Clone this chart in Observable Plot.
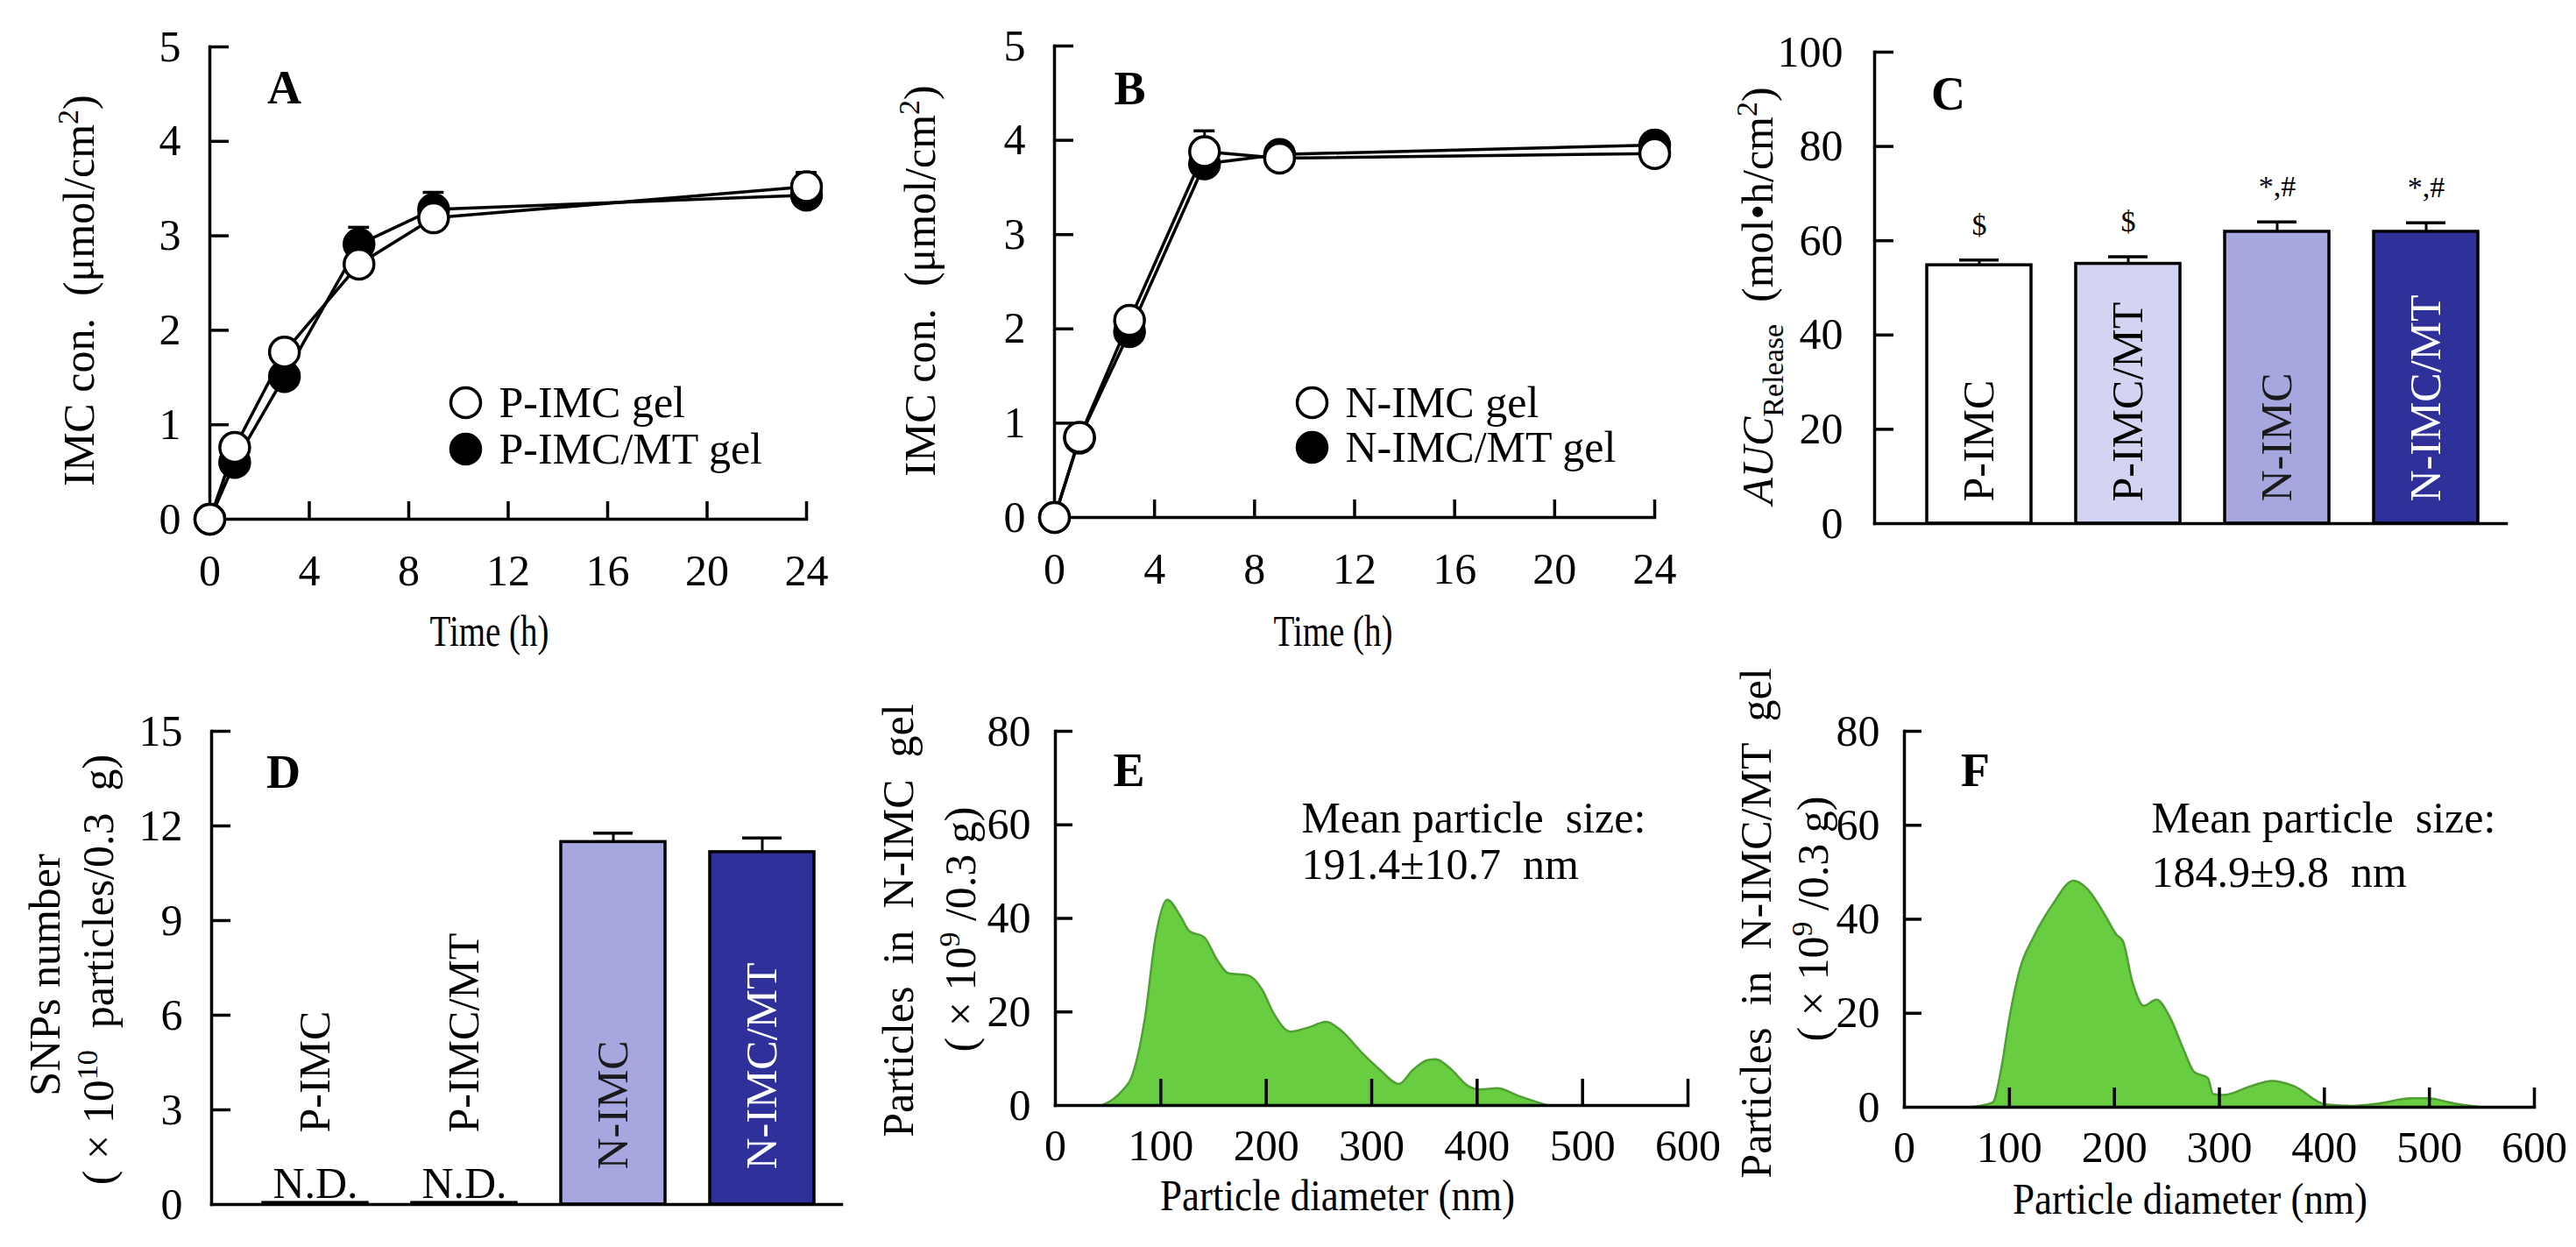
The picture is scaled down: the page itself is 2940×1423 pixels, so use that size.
<!DOCTYPE html>
<html><head><meta charset="utf-8">
<script src="https://cdn.jsdelivr.net/npm/d3@7"></script>
<script src="https://cdn.jsdelivr.net/npm/@observablehq/plot@0.6"></script>
<style>
body{margin:0;background:#fff;}
#fig{position:relative;width:2940px;height:1423px;background:#fff;}
#fig svg{position:absolute;overflow:visible;}
</style></head><body><div id="fig"></div>
<script>
// ---------- data ----------
const timeH = [0, 1, 3, 6, 9, 24];
const pImc = [0, 0.76, 1.77, 2.70, 3.19, 3.52];
const pImcErr = [0, 0.05, 0.06, 0.08, 0.10, 0.15];
const pImcMt = [0, 0.60, 1.51, 2.91, 3.28, 3.43];
const pImcMtErr = [0, 0.05, 0.08, 0.18, 0.18, 0.08];
const nImc = [0, 0.85, 2.09, 3.88, 3.81, 3.86];
const nImcErr = [0, 0.05, 0.06, 0.22, 0.06, 0.06];
const nImcMt = [0, 0.84, 1.97, 3.75, 3.85, 3.95];
const nImcMtErr = [0, 0.04, 0.05, 0.08, 0.05, 0.12];

const groups = ["P-IMC", "P-IMC/MT", "N-IMC", "N-IMC/MT"];
const aucMean = [54.8, 55.1, 61.9, 61.9];
const aucErr = [1.1, 1.5, 2.1, 1.9];
const aucSig = ["$", "$", "*,#", "*,#"];
const snpMean = [0.05, 0.05, 11.49, 11.17];
const snpErr = [0, 0, 0.28, 0.45];
const snpNote = ["N.D.", "N.D.", "", ""];
const groupFill = ["#ffffff", "#d3d3f2", "#a7a7e0", "#30309a"];
const groupText = ["#000000", "#000000", "#1a1a1a", "#ffffff"];

const diamE = [44, 64, 72, 85, 95, 106, 119, 127, 141, 154, 164, 183, 196, 207, 223, 239, 257, 270, 292, 308, 326, 339, 353, 361, 374, 392, 403, 419, 440, 467];
const countE = [0, 3.3, 5.9, 18.8, 36, 44, 40.3, 37.3, 36, 30.9, 28.3, 27.8, 24.8, 19.7, 15.8, 16.6, 17.9, 16.2, 11, 7.6, 4.6, 7.6, 9.7, 9.9, 8, 4.1, 3.4, 3.7, 2, 0];
const diamF = [62, 84, 92, 100, 110, 123, 141, 161, 174, 192, 202, 208, 217, 228, 240, 253, 266, 276, 289, 294, 304, 330, 350, 371, 401, 427, 452, 483, 498, 524, 550];
const countF = [0, 1, 7.9, 19, 29.4, 36.2, 43.1, 48.2, 46.5, 40.5, 36.7, 35.4, 26.8, 21.6, 22.9, 19.1, 12.2, 7.5, 6.2, 2.8, 2.6, 4.5, 5.6, 4.5, 0.6, 0.3, 0.8, 1.9, 1.9, 0.8, 0];

const timeTicks = [0, 4, 8, 12, 16, 20, 24];
const concTicks = [0, 1, 2, 3, 4, 5];
const aucTicks = [0, 20, 40, 60, 80, 100];
const snpTicks = [0, 3, 6, 9, 12, 15];
const diamTicks = [0, 100, 200, 300, 400, 500, 600];
const countTicks = [0, 20, 40, 60, 80];

// ---------- helpers ----------
const fig = document.getElementById("fig");
const FONT = "'Liberation Serif', 'Times New Roman', serif";
const LW = 3.5;
const GREEN = "#69cd42";
const GREEN_DARK = "#4f9f33";
const fmt = d => String(d);

function mount(P, opts) {
  const svg = Plot.plot({
    width: P.width, height: P.height,
    marginLeft: P.mL, marginRight: P.mR, marginTop: P.mT, marginBottom: P.mB,
    style: {fontFamily: FONT, fontSize: "50px", color: "#000", background: "transparent", overflow: "visible"},
    color: {type: "identity"},
    ...opts
  });
  svg.style.position = "absolute";
  svg.style.left = P.left + "px";
  svg.style.top = P.top + "px";
  svg.style.maxWidth = "none";
  fig.append(svg);
  return svg;
}
function at(P, X, Y) { return {frameAnchor: "top-left", dx: X - P.left - P.mL, dy: Y - P.top - P.mT}; }
function note(P, X, Y, text, o = {}) {
  return Plot.text([text], {text: d => d, ...at(P, X, Y), textAnchor: "middle", lineAnchor: "middle", fontSize: 50, ...o});
}
function yTicksIn(P, ticks, len = 22) {
  const fw = P.width - P.mL - P.mR;
  return Plot.ruleY(ticks.slice(1), {y: d => d, insetRight: fw - len, strokeWidth: LW});
}
function xTicksIn(P, ticks, len = 20) {
  const fh = P.height - P.mT - P.mB;
  return Plot.ruleX(ticks.slice(1), {x: d => d, insetTop: fh - len, strokeWidth: LW});
}
function axesLines() {
  return [Plot.frame({anchor: "left", strokeWidth: LW}), Plot.frame({anchor: "bottom", strokeWidth: LW})];
}
function findText(svg, plain) {
  return d3.select(svg).selectAll("text").filter(function () { return this.textContent === plain; });
}
function richify(svg, plain, parts) {
  findText(svg, plain).each(function () {
    const el = d3.select(this);
    el.text(null);
    let shift = 0;
    for (const [str, kind] of parts) {
      const ts = el.append("tspan").text(str);
      const target = kind === "sup" ? -18 : kind === "sub" ? 12 : 0;
      if (target !== shift) ts.attr("dy", target - shift);
      shift = target;
      if (kind === "sup" || kind === "sub") ts.attr("font-size", 34);
      if (kind === "italic") ts.attr("font-style", "italic");
    }
  });
}
function squeeze(svg, plain, len) {
  findText(svg, plain).attr("textLength", len).attr("lengthAdjust", "spacingAndGlyphs");
}

// ---------- A & B: release profiles ----------
function rows(series) {
  return series.flatMap(s => timeH.map((t, i) => ({t, v: s.v[i], e: s.e[i], name: s.name, fill: s.fill})));
}
function releasePanel(P, series, legend, letter, ylab, xlab) {
  const data = rows(series);
  const svg = mount(P, {
    x: {domain: [0, 24]},
    y: {domain: [0, 5]},
    marks: [
      ...axesLines(),
      yTicksIn(P, concTicks),
      xTicksIn(P, timeTicks),
      Plot.axisY({ticks: concTicks, tickSize: 0, tickPadding: 33, label: null, tickFormat: fmt}),
      Plot.axisX({ticks: timeTicks, tickSize: 0, tickPadding: 40, label: null, tickFormat: fmt}),
      Plot.ruleX(data.filter(d => d.e > 0), {x: "t", y1: "v", y2: d => d.v + d.e, strokeWidth: 3}),
      Plot.ruleY(data.filter(d => d.e > 0), {y: d => d.v + d.e, x1: d => d.t - 0.42, x2: d => d.t + 0.42, strokeWidth: 3.5}),
      Plot.line(data, {x: "t", y: "v", z: "name", stroke: "#000", strokeWidth: LW}),
      Plot.dot(data, {x: "t", y: "v", r: 17, fill: "fill", stroke: "#000", strokeWidth: LW}),
      ...legend.flatMap(l => [
        Plot.dot([l.name], {...at(P, l.X, l.Y), r: 17, fill: l.fill, stroke: "#000", strokeWidth: LW}),
        note(P, l.X + 38, l.Y, l.name, {textAnchor: "start"})
      ]),
      note(P, letter.X, letter.Y, letter.t, {fontWeight: "bold", fontSize: 54}),
      note(P, ylab.X, ylab.Y, ylab.t, {rotate: -90}),
      note(P, xlab.X, xlab.Y, "Time (h)")
    ]
  });
  richify(svg, ylab.t, [["IMC con.  (μmol/cm", ""], ["2", "sup"], [")", ""]]);
  squeeze(svg, "Time (h)", 136);
}

const PA = {left: 0, top: 0, width: 980, height: 770, mL: 239, mR: 60, mT: 53, mB: 178};
releasePanel(PA,
  [{name: "P-IMC/MT gel", v: pImcMt, e: pImcMtErr, fill: "#000000"},
   {name: "P-IMC gel", v: pImc, e: pImcErr, fill: "#ffffff"}],
  [{name: "P-IMC gel", fill: "#fff", X: 531, Y: 459}, {name: "P-IMC/MT gel", fill: "#000", X: 531, Y: 512}],
  {t: "A", X: 324, Y: 100},
  {t: "IMC con.  (μmol/cm2)", X: 90, Y: 331},
  {X: 558, Y: 720});

const PB = {left: 980, top: 0, width: 960, height: 770, mL: 223, mR: 52, mT: 52, mB: 180};
releasePanel(PB,
  [{name: "N-IMC/MT gel", v: nImcMt, e: nImcMtErr, fill: "#000000"},
   {name: "N-IMC gel", v: nImc, e: nImcErr, fill: "#ffffff"}],
  [{name: "N-IMC gel", fill: "#fff", X: 1497, Y: 459}, {name: "N-IMC/MT gel", fill: "#000", X: 1497, Y: 510}],
  {t: "B", X: 1289, Y: 101},
  {t: "IMC con.  (μmol/cm2)", X: 1050, Y: 320},
  {X: 1521, Y: 720});

// ---------- C: AUC bars ----------
const PC = {left: 1940, top: 0, width: 1000, height: 770, mL: 199, mR: 80, mT: 59, mB: 173};
const cRows = groups.map((g, i) => ({g, v: aucMean[i], e: aucErr[i], sig: aucSig[i], fill: groupFill[i], tc: groupText[i]}));
const svgC = mount(PC, {
  x: {type: "band", domain: groups, range: [259, 888], paddingInner: 0.3, paddingOuter: 0, axis: null},
  y: {domain: [0, 100]},
  marks: [
    Plot.ruleX(cRows, {x: "g", y1: "v", y2: d => d.v + d.e, strokeWidth: 3}),
    Plot.tickY(cRows, {x: "g", y: d => d.v + d.e, insetLeft: 37, insetRight: 37, strokeWidth: LW}),
    Plot.barY(cRows, {x: "g", y: "v", fill: "fill", stroke: "#000", strokeWidth: LW}),
    ...axesLines(),
    yTicksIn(PC, aucTicks),
    Plot.axisY({ticks: aucTicks, tickSize: 0, tickPadding: 36, label: null, tickFormat: fmt}),
    Plot.text(cRows, {x: "g", y: 0, dy: -25, text: "g", rotate: -90, textAnchor: "start", lineAnchor: "middle", fill: "tc", fontSize: 50}),
    Plot.text(cRows, {x: "g", y: d => d.v + d.e, dy: -40, text: "sig", fontSize: 34, lineAnchor: "middle"}),
    note(PC, 2223, 107, "C", {fontWeight: "bold", fontSize: 54}),
    note(PC, 2006, 337, "AUCRelease  (mol•h/cm2)", {rotate: -90})
  ]
});
richify(svgC, "AUCRelease  (mol•h/cm2)", [["AUC", "italic"], ["Release", "sub"], ["  (mol•h/cm", ""], ["2", "sup"], [")", ""]]);

// ---------- D: SNP number ----------
const PD = {left: 0, top: 770, width: 980, height: 653, mL: 241, mR: 20, mT: 64, mB: 49};
const dRows = groups.map((g, i) => ({g, v: snpMean[i], e: snpErr[i], nd: snpNote[i], fill: groupFill[i], tc: groupText[i]}));
const svgD = mount(PD, {
  x: {type: "band", domain: groups, range: [300, 929], paddingInner: 0.3, paddingOuter: 0, axis: null},
  y: {domain: [0, 15]},
  marks: [
    Plot.ruleX(dRows.filter(d => d.e > 0), {x: "g", y1: "v", y2: d => d.v + d.e, strokeWidth: 3}),
    Plot.tickY(dRows.filter(d => d.e > 0), {x: "g", y: d => d.v + d.e, insetLeft: 37, insetRight: 37, strokeWidth: LW}),
    Plot.barY(dRows, {x: "g", y: "v", fill: "fill", stroke: "#000", strokeWidth: LW}),
    ...axesLines(),
    yTicksIn(PD, snpTicks),
    Plot.axisY({ticks: snpTicks, tickSize: 0, tickPadding: 33, label: null, tickFormat: fmt}),
    Plot.text(dRows.filter(d => d.nd), {x: "g", y: 0, dy: -82, text: "g", rotate: -90, textAnchor: "start", lineAnchor: "middle", fill: "tc", fontSize: 50}),
    Plot.text(dRows.filter(d => !d.nd), {x: "g", y: 0, dy: -40, text: "g", rotate: -90, textAnchor: "start", lineAnchor: "middle", fill: "tc", fontSize: 50}),
    Plot.text(dRows.filter(d => d.nd), {x: "g", y: 0, dy: -24, text: "nd", lineAnchor: "middle", fontSize: 50}),
    note(PD, 323, 881, "D", {fontWeight: "bold", fontSize: 54}),
    note(PD, 51, 1112, "SNPs number", {rotate: -90}),
    note(PD, 112, 1106, "( × 1010  particles/0.3  g)", {rotate: -90})
  ]
});
richify(svgD, "( × 1010  particles/0.3  g)", [["( × 10", ""], ["10", "sup"], ["  particles/0.3  g)", ""]]);

// ---------- E & F: size distributions ----------
function sizePanel(P, diam, count, letter, meanText, ylab1, ylab1Pos, ylab2Pos, xlabPos, xTickLen) {
  const data = diam.map((d, i) => ({d, c: count[i]}));
  const svg = mount(P, {
    x: {domain: [0, 600]},
    y: {domain: [0, 80]},
    marks: [
      Plot.areaY(data, {x: "d", y: "c", curve: "monotone-x", fill: GREEN}),
      Plot.lineY(data, {x: "d", y: "c", curve: "monotone-x", stroke: GREEN_DARK, strokeWidth: 2.5}),
      ...axesLines(),
      yTicksIn(P, countTicks, 20),
      xTicksIn(P, diamTicks, xTickLen),
      Plot.axisY({ticks: countTicks, tickSize: 0, tickPadding: 28, label: null, tickFormat: fmt}),
      Plot.axisX({ticks: diamTicks, tickSize: 0, tickPadding: 27, label: null, tickFormat: fmt}),
      note(P, letter.X, letter.Y, letter.t, {fontWeight: "bold", fontSize: 54}),
      note(P, meanText.X, meanText.Y1, "Mean particle  size:", {textAnchor: "start"}),
      note(P, meanText.X, meanText.Y2, meanText.t, {textAnchor: "start"}),
      note(P, ylab1Pos.X, ylab1Pos.Y, ylab1, {rotate: -90}),
      note(P, ylab2Pos.X, ylab2Pos.Y, "( × 109 /0.3 g)", {rotate: -90}),
      note(P, xlabPos.X, xlabPos.Y, "Particle diameter (nm)")
    ]
  });
  richify(svg, "( × 109 /0.3 g)", [["( × 10", ""], ["9", "sup"], [" /0.3 g)", ""]]);
  squeeze(svg, "Particle diameter (nm)", 405);
}

const PE = {left: 980, top: 770, width: 960, height: 653, mL: 224, mR: 14, mT: 64, mB: 162};
sizePanel(PE, diamE, countE, {t: "E", X: 1288, Y: 879},
  {X: 1485, Y1: 933, Y2: 986, t: "191.4±10.7  nm"},
  "Particles  in  N-IMC  gel", {X: 1025, Y: 1050}, {X: 1096, Y: 1060}, {X: 1526, Y: 1364}, 30);

const PF = {left: 1940, top: 770, width: 1000, height: 653, mL: 233, mR: 48, mT: 64, mB: 160};
sizePanel(PF, diamF, countF, {t: "F", X: 2254, Y: 879},
  {X: 2455, Y1: 933, Y2: 995, t: "184.9±9.8  nm"},
  "Particles  in  N-IMC/MT  gel", {X: 2004, Y: 1053}, {X: 2069, Y: 1048}, {X: 2499, Y: 1368}, 22);
</script>
</body></html>
